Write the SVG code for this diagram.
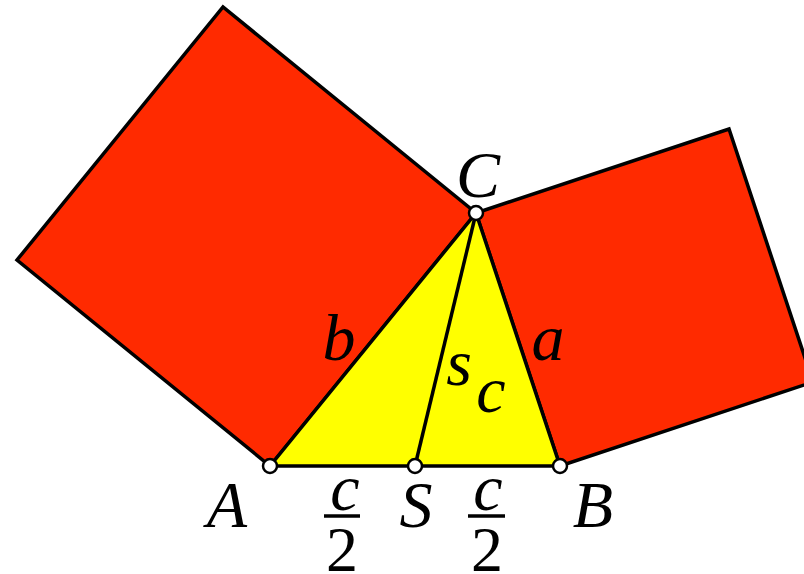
<svg xmlns="http://www.w3.org/2000/svg" width="804" height="574" viewBox="0 0 804 574">
<style>
.sq{fill:#FF2A00;stroke:#000;stroke-width:3.5;stroke-linejoin:miter}
.tri{fill:#FFFF00;stroke:#000;stroke-width:3.5}
.ln{stroke:#000;stroke-width:3.5;fill:none}
.pt{fill:#fff;stroke:#000;stroke-width:2.5}
.lb{font-family:'Liberation Serif','Times New Roman','DejaVu Serif',serif;font-style:italic;font-size:66px;fill:#000;text-anchor:middle}
.num{font-family:'Liberation Serif','Times New Roman','DejaVu Serif',serif;font-size:64px;fill:#000;text-anchor:middle}
</style>
<rect width="804" height="574" fill="#fff"/>
<g id="square-b"><polygon class="sq" points="270,466 476,213 223,7 17,260"/></g>
<g id="square-a"><polygon class="sq" points="476,213 729,129 813,382 560,466"/></g>
<g id="triangle"><polygon class="tri" points="270,466 560,466 476,213"/></g>
<g id="connectors"><line class="ln" x1="476" y1="213" x2="415" y2="466"/></g>
<g id="point-A"><circle class="pt" cx="270" cy="466" r="7"/><text class="lb" x="227" y="527">A</text></g>
<g id="point-B"><circle class="pt" cx="560" cy="466" r="7"/><text class="lb" x="593" y="527">B</text></g>
<g id="point-C"><circle class="pt" cx="476" cy="213" r="7"/><text class="lb" x="478" y="197">C</text></g>
<g id="point-S"><circle class="pt" cx="415" cy="466" r="7"/><text class="lb" x="416" y="527">S</text></g>
<g id="label-b"><text class="lb" x="339" y="360">b</text></g>
<g id="label-a"><text class="lb" x="548" y="360">a</text></g>
<g id="label-sc"><text class="lb" x="459" y="385">s</text><text class="lb" x="491" y="412">c</text></g>
<g id="frac-left"><text class="lb" x="345" y="510">c</text><line class="ln" x1="324" y1="516" x2="360" y2="516"/><text class="num" x="342" y="571">2</text></g>
<g id="frac-right"><text class="lb" x="488" y="510">c</text><line class="ln" x1="468" y1="516" x2="505" y2="516"/><text class="num" x="487" y="571">2</text></g>
</svg>
